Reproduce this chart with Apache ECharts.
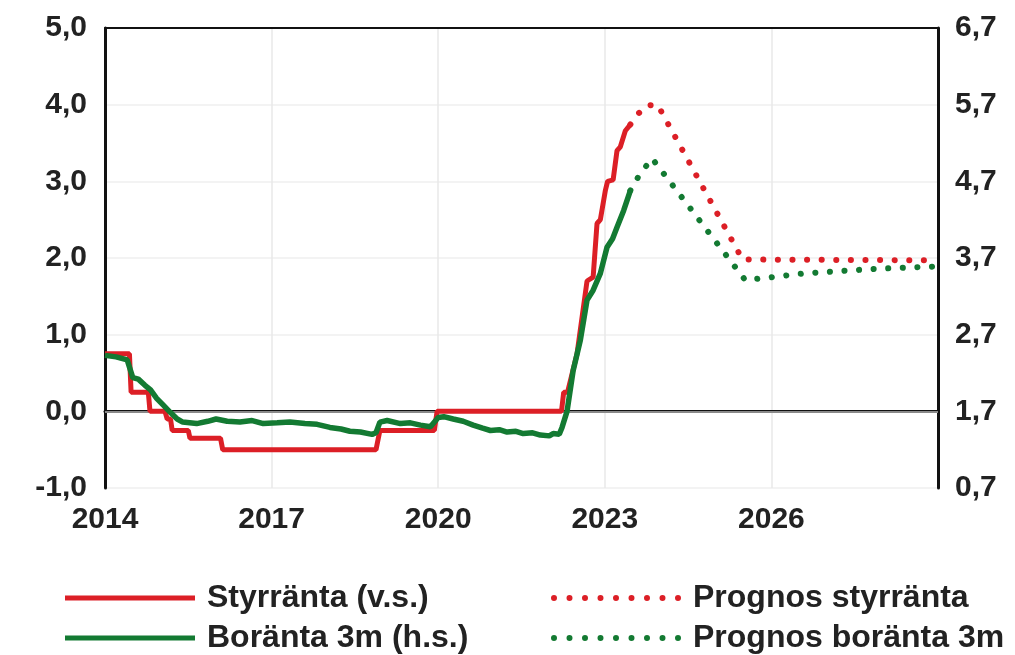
<!DOCTYPE html>
<html>
<head>
<meta charset="utf-8">
<script src="https://cdn.jsdelivr.net/npm/echarts@6/dist/echarts.min.js"></script>
<style>
html,body{margin:0;padding:0;background:#fff;}
#chart{width:1015px;height:655px;}
</style>
</head>
<body>
<div id="chart"></div>
<script>
// ---- DATA ----
const seriesNames = ['Styrränta (v.s.)', 'Boränta 3m (h.s.)', 'Prognos styrränta', 'Prognos boränta 3m'];
const xTickYears = [2014, 2017, 2020, 2023, 2026];

// Styrränta, left axis (percent), decimal years
const styrDates  = [2014.0, 2014.44, 2014.47, 2014.78, 2014.81, 2015.08, 2015.12, 2015.18, 2015.21, 2015.50, 2015.53, 2016.08, 2016.12, 2018.88, 2018.95, 2019.93, 2019.98, 2022.22, 2022.26, 2022.33, 2022.50, 2022.68, 2022.79, 2022.86, 2022.92, 2023.01, 2023.05, 2023.15, 2023.22, 2023.28, 2023.37, 2023.46];
const styrValues = [0.75, 0.75, 0.25, 0.25, 0.0, 0.0, -0.10, -0.10, -0.25, -0.25, -0.35, -0.35, -0.50, -0.50, -0.25, -0.25, 0.0, 0.0, 0.25, 0.25, 0.75, 1.70, 1.75, 2.45, 2.50, 2.88, 3.00, 3.02, 3.40, 3.45, 3.66, 3.74];

// Boränta 3m, right axis (percent)
const borDates  = [2014.0, 2014.2, 2014.4, 2014.5, 2014.6, 2014.72, 2014.82, 2014.93, 2015.05, 2015.17, 2015.3, 2015.4, 2015.65, 2015.85, 2016.0, 2016.2, 2016.43, 2016.65, 2016.85, 2017.1, 2017.33, 2017.6, 2017.82, 2018.05, 2018.25, 2018.41, 2018.6, 2018.81, 2018.88, 2018.95, 2019.08, 2019.32, 2019.5, 2019.68, 2019.86, 2020.0, 2020.1, 2020.27, 2020.45, 2020.63, 2020.8, 2020.94, 2021.1, 2021.24, 2021.4, 2021.53, 2021.7, 2021.84, 2022.0, 2022.07, 2022.18, 2022.23, 2022.32, 2022.43, 2022.56, 2022.68, 2022.79, 2022.92, 2023.04, 2023.14, 2023.22, 2023.34, 2023.46];
const borValues = [2.43, 2.41, 2.37, 2.14, 2.12, 2.04, 1.98, 1.87, 1.78, 1.69, 1.60, 1.56, 1.54, 1.57, 1.60, 1.57, 1.56, 1.58, 1.54, 1.55, 1.56, 1.54, 1.53, 1.49, 1.47, 1.44, 1.43, 1.40, 1.42, 1.56, 1.58, 1.54, 1.55, 1.52, 1.50, 1.62, 1.63, 1.60, 1.57, 1.52, 1.48, 1.45, 1.46, 1.43, 1.44, 1.41, 1.42, 1.39, 1.38, 1.41, 1.40, 1.49, 1.70, 2.23, 2.63, 3.15, 3.28, 3.50, 3.84, 3.95, 4.10, 4.32, 4.58];

// Prognos styrränta (left axis)
const progStyrDates  = [2023.46, 2023.60, 2023.75, 2023.95, 2025.48, 2029.0];
const progStyrValues = [3.74, 3.88, 3.99, 4.00, 1.98, 1.97];

// Prognos boränta 3m (right axis)
const progBorDates  = [2023.46, 2023.62, 2023.85, 2025.53, 2026.6, 2027.9, 2029.0];
const progBorValues = [4.58, 4.78, 5.00, 3.41, 3.50, 3.56, 3.59];

// ---- CHART ----
const RED = '#dc1f26';
const GREEN = '#137a32';
const zip = (a, b) => a.map((x, i) => [x, b[i]]);
const fmt = v => (Math.round(v * 10) / 10).toFixed(1).replace('.', ',');

// legend icons: solid bar and a row of dots
const solidIcon = 'path://M0,0H130V5H0Z';
let dotPath = '';
for (let i = 0; i < 9; i++) {
  const cx = 3 + i * 15.5;
  dotPath += 'M' + (cx - 3) + ',3a3,3 0 1,0 6,0a3,3 0 1,0 -6,0Z';
}
const dotIcon = 'path://' + dotPath;

const legendText = {fontFamily: 'Liberation Sans', fontSize: 32, fontWeight: 'bold', color: '#222', padding: [0, 0, 0, 7]};
const mkLegend = (name, left, top, icon, h) => ({
  data: [{name: name, icon: icon}], left: left, top: top, padding: 0,
  itemWidth: 130, itemHeight: h, textStyle: legendText
});

const chart = echarts.init(document.getElementById('chart'), null, {renderer: 'canvas'});
const tickFont = {color: '#222', fontSize: 30, fontWeight: 'bold', fontFamily: 'Liberation Sans'};

chart.setOption({
  animation: false,
  backgroundColor: '#fff',
  textStyle: {fontFamily: 'Liberation Sans'},
  grid: {left: 105, right: 77, top: 28, bottom: 167},
  legend: [
    mkLegend(seriesNames[0], 65, 582, solidIcon, 5),
    mkLegend(seriesNames[1], 65, 622, solidIcon, 5),
    mkLegend(seriesNames[2], 551, 582, dotIcon, 6),
    mkLegend(seriesNames[3], 551, 622, dotIcon, 6)
  ],
  xAxis: [
    {type: 'value', min: 2014, max: 2029, interval: 3, position: 'bottom',
     axisLine: {show: true, lineStyle: {color: '#111', width: 3}},
     axisTick: {show: false},
     axisLabel: Object.assign({margin: 17, showMaxLabel: false,
       formatter: v => xTickYears.includes(v) ? String(v) : ''}, tickFont),
     splitLine: {show: true, lineStyle: {color: '#e8e8e8', width: 1.5}}},
    {type: 'value', min: 2014, max: 2029, interval: 3, position: 'top',
     axisLine: {show: true, lineStyle: {color: '#111', width: 2}},
     axisTick: {show: false}, axisLabel: {show: false}, splitLine: {show: false}}
  ],
  yAxis: [
    {type: 'value', min: -1, max: 5, interval: 1, position: 'left',
     axisLine: {show: true, lineStyle: {color: '#111', width: 3}},
     axisTick: {show: false},
     axisLabel: Object.assign({margin: 18, formatter: fmt}, tickFont),
     splitLine: {show: true, lineStyle: {color: '#efefef', width: 1.5}}},
    {type: 'value', min: 0.7, max: 6.7, interval: 1, position: 'right',
     axisLine: {show: true, lineStyle: {color: '#111', width: 3}},
     axisTick: {show: false},
     axisLabel: Object.assign({margin: 17, formatter: fmt}, tickFont),
     splitLine: {show: false}}
  ],
  series: [
    {name: seriesNames[0], type: 'line', yAxisIndex: 0, data: zip(styrDates, styrValues),
     symbol: 'none', color: RED, lineStyle: {color: RED, width: 5}, z: 3,
     markLine: {silent: true, symbol: 'none', label: {show: false},
       lineStyle: {color: '#8a8a8a', width: 2, type: 'solid'}, data: [{yAxis: 0}], z: 1}},
    {name: seriesNames[1], type: 'line', yAxisIndex: 1, data: zip(borDates, borValues),
     symbol: 'none', color: GREEN, lineStyle: {color: GREEN, width: 5.5}, z: 4},
    {name: seriesNames[2], type: 'line', yAxisIndex: 0, data: zip(progStyrDates, progStyrValues),
     symbol: 'none', color: RED, lineStyle: {color: RED, width: 6, type: [0.1, 14.5], cap: 'round'}, z: 3},
    {name: seriesNames[3], type: 'line', yAxisIndex: 1, data: zip(progBorDates, progBorValues),
     symbol: 'none', color: GREEN, lineStyle: {color: GREEN, width: 6, type: [0.1, 14.5], cap: 'round'}, z: 3}
  ]
});
</script>
</body>
</html>
